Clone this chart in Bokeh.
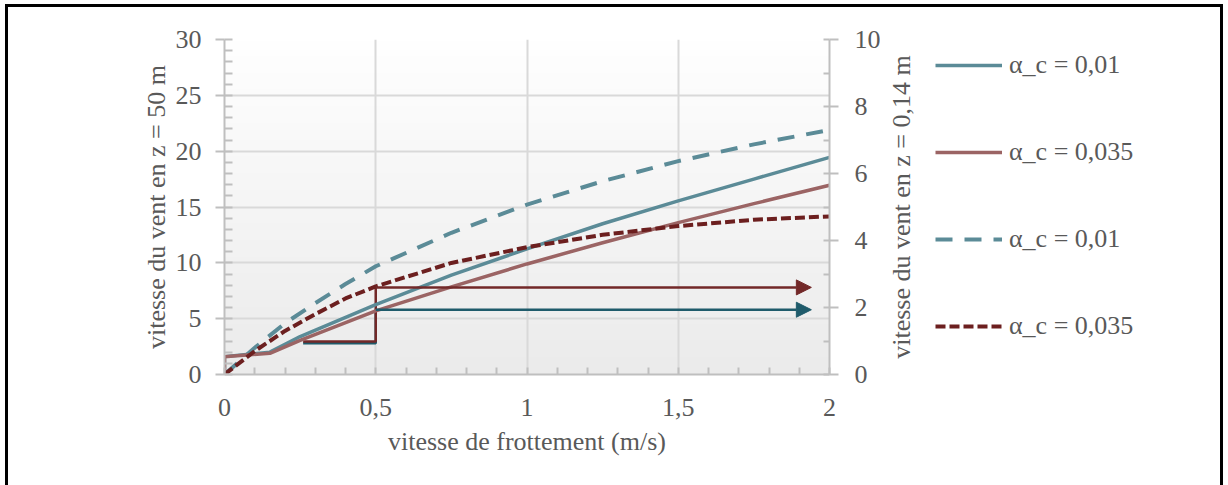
import math
from bokeh.plotting import figure
from bokeh.layouts import row
from bokeh.models import (Range1d, LinearAxis, FixedTicker, Legend, LegendItem,
                          Arrow, NormalHead)
from bokeh.embed import file_html
from bokeh.resources import INLINE
import numpy as np

# ---------------- data ----------------
x_ticks = [0, 0.5, 1, 1.5, 2]
x_tick_labels = ["0", "0,5", "1", "1,5", "2"]
y_left_ticks = [0, 5, 10, 15, 20, 25, 30]
y_right_ticks = [0, 2, 4, 6, 8, 10]

x_title = "vitesse de frottement (m/s)"
yl_title = "vitesse du vent en z = 50 m"
yr_title = "vitesse du vent en z = 0,14 m"
legend_labels = ["α_c = 0,01", "α_c = 0,035", "α_c = 0,01", "α_c = 0,035"]

# wind speed at z = 50 m (left axis), solid lines
u_solid = [0, 0, 0.15, 0.25, 0.5, 0.75, 1.0, 1.25, 1.5, 1.75, 2.0]
v50_a001 = [0, 1.6, 2.0, 3.4, 6.25, 8.9, 11.25, 13.5, 15.55, 17.5, 19.45]
v50_a0035 = [0, 1.6, 1.9, 3.05, 5.7, 7.85, 9.9, 11.8, 13.6, 15.3, 16.95]

# wind speed at z = 0.14 m (right axis), dashed lines
u_dash = [0, 0.1, 0.2, 0.3, 0.4, 0.5, 0.75, 1.0, 1.25, 1.5, 1.75, 2.0]
v014_a001 = [0, 0.8, 1.53, 2.13, 2.7, 3.23, 4.23, 5.07, 5.77, 6.37, 6.87, 7.3]
v014_a0035 = [0, 0.7, 1.3, 1.8, 2.27, 2.63, 3.33, 3.8, 4.17, 4.43, 4.62, 4.72]

# step + arrow annotations (left axis units)
step_x = [0.26, 0.5, 0.5, 1.94]
step_red_y = [2.95, 2.95, 7.8, 7.8]
step_teal_y = [2.8, 2.8, 5.8, 5.8]

x_lim = (0, 2)
yl_lim = (0, 30)
yr_lim = (0, 10)

# ---------------- styles ----------------
FONT = "Liberation Serif"
TXT = "#595959"
GRID = "#d9d9d9"
AXIS = "#bfbfbf"
TEAL = "#5b8b97"
BROWN = "#9b6464"
DRED = "#6c1f1f"
ARROW_RED = "#722828"
ARROW_TEAL = "#1f5b6b"
BORDER = "3px solid black"

# ---------------- main chart ----------------
p = figure(frame_width=602, frame_height=332, output_backend="svg", toolbar_location=None,
           x_range=Range1d(*x_lim), y_range=Range1d(*yl_lim),
           min_border_left=216, min_border_right=54, min_border_top=30,
           min_border_bottom=116)
p.styles = {"border-left": BORDER, "border-top": BORDER}
p.outline_line_color = None
p.background_fill_color = "white"
p.border_fill_color = "white"
p.extra_y_ranges = {"right": Range1d(*yr_lim)}

# gradient background
grad = np.linspace(0, 1, 200)
top = np.array([255, 255, 255]); bot = np.array([235, 235, 235])
cols = (bot[None, :] * (1 - grad[:, None]) + top[None, :] * grad[:, None]).astype(np.uint32)
img = np.empty((200, 1), dtype=np.uint32)
view = img.view(dtype=np.uint8).reshape((200, 1, 4))
view[:, 0, 0] = cols[:, 0]; view[:, 0, 1] = cols[:, 1]; view[:, 0, 2] = cols[:, 2]; view[:, 0, 3] = 255
r_img = p.image_rgba(image=[img], x=x_lim[0], y=yl_lim[0], dw=x_lim[1] - x_lim[0],
                     dh=yl_lim[1] - yl_lim[0])
r_img.level = "image"

def style_axis(ax):
    ax.axis_line_color = AXIS
    ax.axis_line_width = 2
    ax.major_tick_line_color = AXIS
    ax.minor_tick_line_color = AXIS
    ax.major_tick_line_width = 2
    ax.minor_tick_line_width = 2
    ax.major_label_text_font = FONT
    ax.major_label_text_font_size = "26px"
    ax.major_label_text_color = TXT
    ax.axis_label_text_font = FONT
    ax.axis_label_text_font_size = "26px"
    ax.axis_label_text_color = TXT
    ax.axis_label_text_font_style = "normal"

xa = p.xaxis[0]
xa.ticker = FixedTicker(ticks=x_ticks, minor_ticks=list(np.round(np.arange(0, 2.01, 0.1), 2)))
xa.major_label_overrides = {t: l for t, l in zip(x_ticks, x_tick_labels)}
xa.axis_label = x_title
style_axis(xa)
xa.major_tick_in = 0
xa.major_tick_out = 0
xa.minor_tick_in = 7
xa.minor_tick_out = 0
xa.major_label_standoff = 24
xa.axis_label_standoff = 8

ya = p.yaxis[0]
ya.ticker = FixedTicker(ticks=y_left_ticks, minor_ticks=list(range(0, 31)))
ya.axis_label = yl_title
style_axis(ya)
ya.major_tick_in = 0
ya.major_tick_out = 9
ya.minor_tick_in = 8
ya.minor_tick_out = 0
ya.major_label_standoff = 14
ya.axis_label_standoff = 2

yr = LinearAxis(y_range_name="right")
yr.ticker = FixedTicker(ticks=y_right_ticks, minor_ticks=list(range(0, 11)))
style_axis(yr)
yr.major_tick_in = 0
yr.major_tick_out = 9
yr.minor_tick_in = 6
yr.minor_tick_out = 0
yr.major_label_standoff = 16
p.add_layout(yr, "right")

p.xgrid.ticker = FixedTicker(ticks=x_ticks)
p.ygrid.ticker = FixedTicker(ticks=y_left_ticks)
p.xgrid.grid_line_color = GRID
p.ygrid.grid_line_color = GRID
p.xgrid.grid_line_width = 2
p.ygrid.grid_line_width = 2

# step annotations
p.line(step_x[:3], step_teal_y[:3], line_color=ARROW_TEAL, line_width=2.5)
p.line(step_x[:3], step_red_y[:3], line_color=ARROW_RED, line_width=2.5)
p.add_layout(Arrow(end=NormalHead(size=15, fill_color=ARROW_TEAL, line_color=ARROW_TEAL),
                   x_start=step_x[2], y_start=step_teal_y[2], x_end=step_x[3], y_end=step_teal_y[3],
                   line_color=ARROW_TEAL, line_width=2.5))
p.add_layout(Arrow(end=NormalHead(size=15, fill_color=ARROW_RED, line_color=ARROW_RED),
                   x_start=step_x[2], y_start=step_red_y[2], x_end=step_x[3], y_end=step_red_y[3],
                   line_color=ARROW_RED, line_width=2.5))

# curves
styles = [dict(line_color=TEAL, line_width=3.5),
          dict(line_color=BROWN, line_width=3.5),
          dict(line_color=TEAL, line_width=4, line_dash="17 12"),
          dict(line_color=DRED, line_width=4, line_dash="10 4")]
series = [(u_solid, v50_a001), (u_solid, v50_a0035), (u_dash, v014_a001), (u_dash, v014_a0035)]
p.line(*series[2], y_range_name="right", **styles[2])
p.line(*series[0], **styles[0])
p.line(*series[1], **styles[1])
p.line(*series[3], y_range_name="right", **styles[3])

# ---------------- side panel: right-axis title + legend ----------------
q = figure(frame_width=296, frame_height=332, output_backend="svg", toolbar_location=None,
           x_range=Range1d(*x_lim), y_range=Range1d(*yl_lim),
           min_border_left=44, min_border_right=0, min_border_top=32, min_border_bottom=114,
           x_axis_type=None, y_axis_type=None)
q.styles = {"border-top": BORDER, "border-right": BORDER}
q.outline_line_color = None
q.grid.visible = False
q.background_fill_color = "white"
q.border_fill_color = "white"

qa = LinearAxis(ticker=FixedTicker(ticks=[], minor_ticks=[]), axis_label=yr_title)
qa.axis_line_color = None
qa.major_tick_line_color = None
qa.minor_tick_line_color = None
qa.major_tick_out = 0
qa.minor_tick_out = 0
qa.major_label_standoff = 0
qa.major_label_text_font_size = "0px"
qa.axis_label_text_font = FONT
qa.axis_label_text_font_size = "26px"
qa.axis_label_text_color = TXT
qa.axis_label_text_font_style = "normal"
qa.axis_label_standoff = 9
q.add_layout(qa, "left")

proxies = [q.line(*s, visible=False, **st) for s, st in zip(series, styles)]
legend = Legend(items=[LegendItem(label=lab, renderers=[r]) for lab, r in zip(legend_labels, proxies)],
                location="top_left", orientation="vertical")
legend.background_fill_alpha = 0
legend.border_line_color = None
legend.inactive_fill_alpha = 0
legend.padding = 0
legend.margin = 11
legend.spacing = 57
legend.glyph_width = 67
legend.glyph_height = 20
legend.label_height = 20
legend.label_standoff = 7
legend.label_text_font = FONT
legend.label_text_font_size = "26px"
legend.label_text_color = TXT
q.add_layout(legend, "center")

layout = row(p, q)
layout.styles = {"margin-left": "5px", "margin-top": "4px"}
open("out.html", "w").write(file_html(layout, INLINE))
